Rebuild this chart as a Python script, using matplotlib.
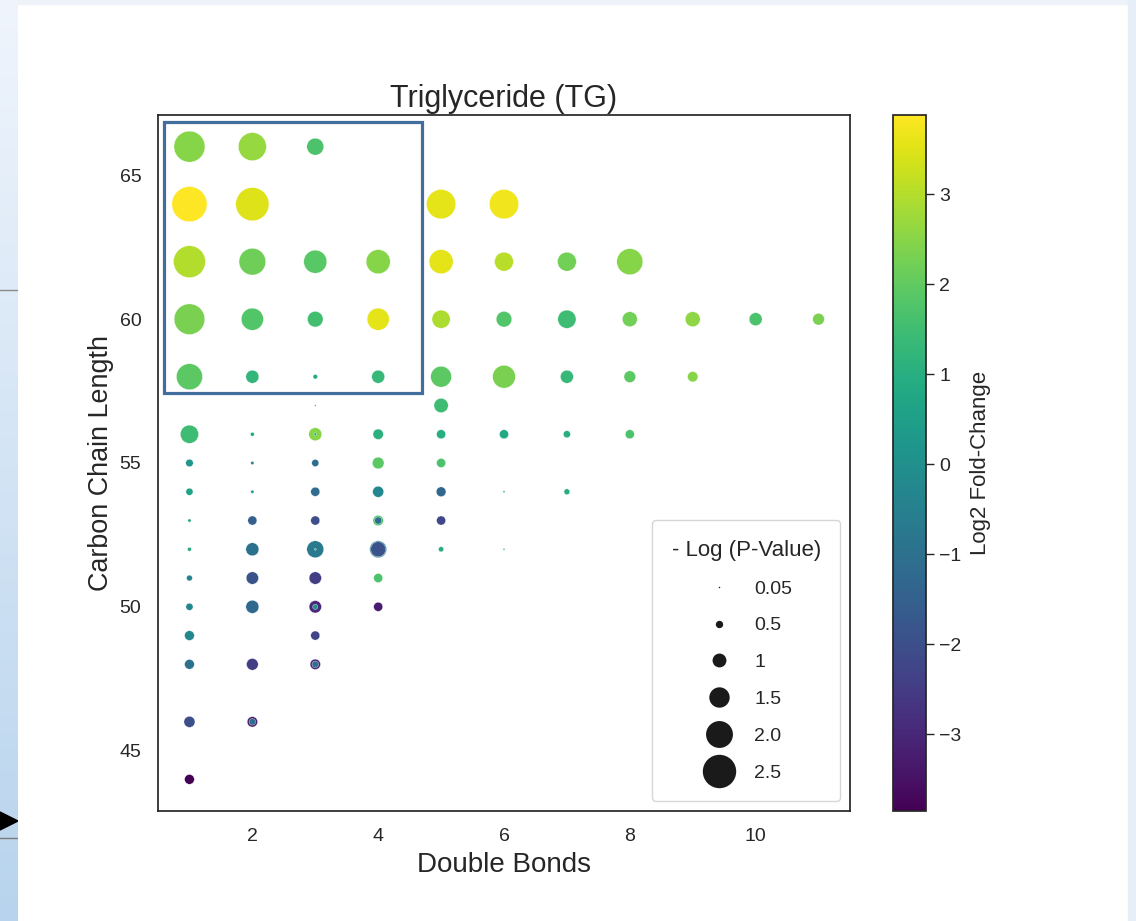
import numpy as np
import matplotlib
matplotlib.use("Agg")
import matplotlib.pyplot as plt
from matplotlib.patches import Rectangle, Polygon
from matplotlib.lines import Line2D

plt.rcParams['font.family'] = ['Liberation Sans', 'DejaVu Sans']

# Lipid species: number of double bonds, total carbon chain length,
# log2 fold-change and -log10(p-value). Repeated coordinates are
# overlapping species drawn on top of each other.
double_bonds = [
    1, 2, 3,
    1, 2, 5, 6,
    1, 2, 3, 4, 5, 6, 7, 8,
    1, 2, 3, 4, 5, 6, 7, 8, 9, 10, 11,
    1, 2, 3, 4, 5, 6, 7, 8, 9,
    3, 5,
    1, 2, 3, 3, 4, 5, 6, 7, 8,
    1, 2, 3, 4, 5,
    1, 2, 3, 4, 5, 6, 7,
    1, 2, 3, 4, 4, 5,
    1, 2, 3, 3, 4, 4, 5, 6,
    1, 2, 3, 4,
    1, 2, 3, 3, 4,
    1, 3,
    1, 2, 3, 3,
    1, 2, 2,
    1,
]
carbon_length = [
    66, 66, 66,
    64, 64, 64, 64,
    62, 62, 62, 62, 62, 62, 62, 62,
    60, 60, 60, 60, 60, 60, 60, 60, 60, 60, 60,
    58, 58, 58, 58, 58, 58, 58, 58, 58,
    57, 57,
    56, 56, 56, 56, 56, 56, 56, 56, 56,
    55, 55, 55, 55, 55,
    54, 54, 54, 54, 54, 54, 54,
    53, 53, 53, 53, 53, 53,
    52, 52, 52, 52, 52, 52, 52, 52,
    51, 51, 51, 51,
    50, 50, 50, 50, 50,
    49, 49,
    48, 48, 48, 48,
    46, 46, 46,
    44,
]
log2_fold_change = [
    2.48, 2.67, 1.70,
    3.88, 3.48, 3.56, 3.72,
    3.00, 2.17, 1.86, 2.48, 3.56, 3.06, 2.24, 2.48,
    2.32, 1.78, 1.55, 3.56, 2.94, 1.78, 1.47, 2.24, 2.56, 1.70, 2.32,
    1.94, 1.24, 0.77, 1.32, 1.94, 2.32, 1.32, 1.94, 2.48,
    0.90, 1.47,
    1.47, 0.80, 2.48, 0.50, 1.08, 0.93, 0.77, 1.00, 1.70,
    0.23, -0.50, -1.16, 1.94, 1.70,
    0.62, 0.40, -1.16, -0.31, -1.32, 0.57, 0.93,
    0.77, -1.50, -2.00, 1.70, -1.16, -2.17,
    0.85, -0.93, -0.70, 1.20, -0.50, -1.86, 0.93, 0.60,
    -0.46, -1.86, -2.48, 1.70,
    -0.31, -1.24, -3.00, 0.00, -3.25,
    -0.23, -2.30,
    -1.00, -2.48, -3.00, -1.00,
    -2.00, -3.20, -1.16,
    -3.85,
]
neg_log_p = [
    2.38, 2.15, 1.30,
    2.70, 2.55, 2.25, 2.25,
    2.45, 2.05, 1.77, 1.85, 1.85, 1.45, 1.45, 2.00,
    2.35, 1.70, 1.20, 1.70, 1.40, 1.20, 1.40, 1.15, 1.15, 1.00, 0.90,
    2.00, 1.00, 0.35, 1.00, 1.60, 1.75, 1.00, 0.90, 0.80,
    0.12, 1.10,
    1.40, 0.30, 1.00, 0.20, 0.80, 0.70, 0.70, 0.55, 0.70,
    0.58, 0.25, 0.55, 0.90, 0.70,
    0.55, 0.25, 0.70, 0.85, 0.75, 0.15, 0.45,
    0.25, 0.70, 0.70, 0.80, 0.55, 0.70,
    0.30, 1.00, 1.30, 0.15, 1.30, 1.15, 0.40, 0.14,
    0.45, 0.95, 0.95, 0.70,
    0.55, 1.00, 0.95, 0.40, 0.70,
    0.75, 0.70,
    0.75, 0.90, 0.80, 0.50,
    0.85, 0.80, 0.50,
    0.75,
]

legend_values = [0.05, 0.5, 1, 1.5, 2.0, 2.5]
legend_labels = ["0.05", "0.5", "1", "1.5", "2.0", "2.5"]

SIZE_SCALE = 88.0  # marker area (pt^2) per unit of -log p squared


def marker_area(v):
    return SIZE_SCALE * np.asarray(v, dtype=float) ** 2


W, H = 1136, 921
fig = plt.figure(figsize=(W / 100, H / 100), dpi=100)
fig.patch.set_facecolor("white")

# window frame around the figure
strip = fig.add_axes([0, 0, 18 / W, 1])
grad = np.linspace(0, 1, 256).reshape(-1, 1)
top_c = np.array([0.94, 0.96, 0.99])
bot_c = np.array([0.72, 0.83, 0.93])
img = top_c + (bot_c - top_c) * grad[..., None]
strip.imshow(img, aspect="auto", extent=[0, 1, 0, 1], origin="upper")
strip.axhline(1 - 290 / H, color="#8a8a8a", lw=1.0)
strip.axhline(1 - 838 / H, color="#7a7a7a", lw=1.0)
strip.add_patch(Polygon([[0.0, 1 - 812 / H], [1.0, 1 - 821 / H], [0.0, 1 - 830 / H]],
                        closed=True, color="black", transform=strip.transAxes))
strip.set_axis_off()
fig.add_artist(Rectangle((0, 1 - 4 / H), 1, 4 / H, transform=fig.transFigure,
                         color="#eef3fa", zorder=0))
fig.add_artist(Rectangle((1128 / W, 0), 8 / W, 1, transform=fig.transFigure,
                         color="#e6eef8", zorder=0))

ax = fig.add_axes([158 / W, 110 / H, 692 / W, 696 / H])
sc = ax.scatter(double_bonds, carbon_length, c=log2_fold_change,
                s=marker_area(neg_log_p), cmap="viridis",
                edgecolors="white", linewidths=0.25, zorder=3)
ax.margins(0.05)
ax.autoscale_view()
ax.set_xlim(ax.get_xlim())
ax.set_ylim(ax.get_ylim())

ax.set_title("Triglyceride (TG)", fontsize=22, color="#262626", pad=6)
ax.set_xlabel("Double Bonds", fontsize=20, color="#262626", labelpad=5)
ax.set_ylabel("Carbon Chain Length", fontsize=19.4, color="#262626", labelpad=4)
ax.set_xticks([2, 4, 6, 8, 10])
ax.set_yticks([45, 50, 55, 60, 65])
ax.tick_params(length=0, pad=12, labelsize=14, labelcolor="#262626")
for sp in ax.spines.values():
    sp.set_color("#262626")
    sp.set_linewidth(1.25)

# highlighted block of long-chain, low-unsaturation species
ax.add_patch(Rectangle((0.60, 57.43), 4.09, 9.41, fill=False,
                       edgecolor="#416e9c", linewidth=2.3, zorder=4))

handles = [Line2D([], [], linestyle="none", marker="o",
                  markersize=np.sqrt(marker_area(v)) + 0.6,
                  markerfacecolor="#1a1a1a", markeredgecolor="#1a1a1a",
                  markeredgewidth=0.0)
           for v in legend_values]
leg = ax.legend(handles, legend_labels, title="- Log (P-Value)",
                loc="lower right", fontsize=14, title_fontsize=16,
                borderpad=1.0, labelspacing=0.99, handletextpad=0.8,
                frameon=True, fancybox=True, borderaxespad=0.5)
leg.get_frame().set_edgecolor("#cccccc")
leg.get_title().set_color("#262626")
for t in leg.get_texts():
    t.set_color("#262626")

cax = fig.add_axes([893 / W, 110 / H, 33 / W, 696 / H])
cb = fig.colorbar(sc, cax=cax)
cb.set_ticks([-3, -2, -1, 0, 1, 2, 3])
cb.ax.tick_params(labelsize=14, length=6, width=1, colors="#262626")
cb.set_label("Log2 Fold-Change", fontsize=16, color="#262626", labelpad=6)
cb.outline.set_edgecolor("#262626")
cb.outline.set_linewidth(1.25)

fig.savefig("out.png", dpi=100)
